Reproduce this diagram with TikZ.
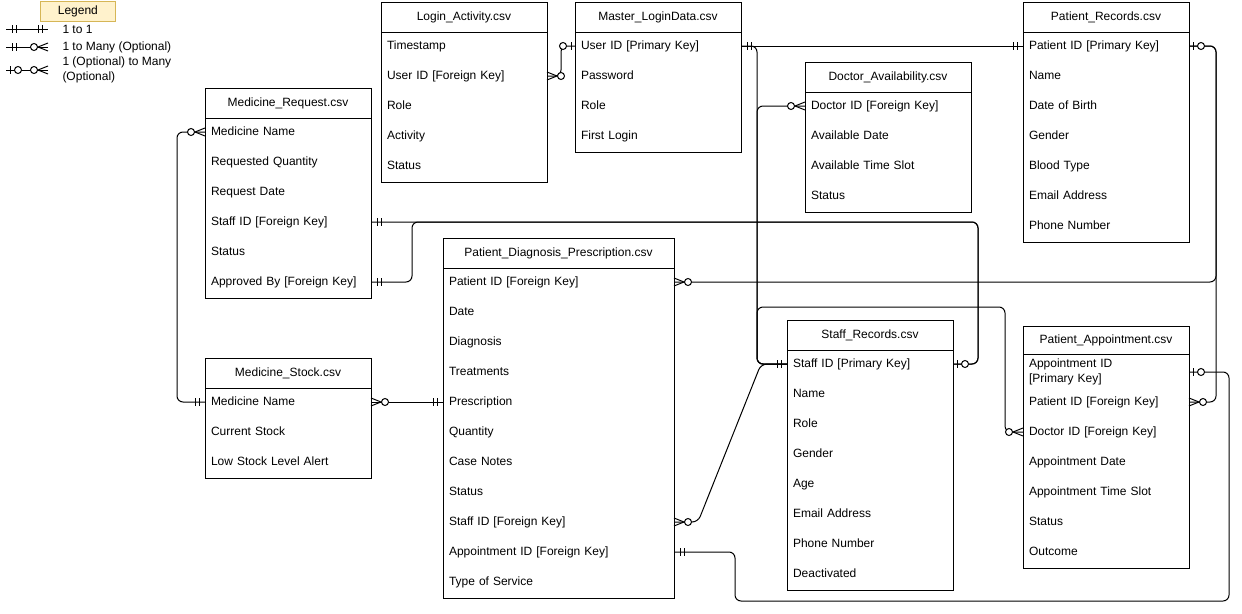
\documentclass[tikz,border=0pt]{standalone}
\usepackage{fontspec}
\setmainfont{Liberation Sans}
\usetikzlibrary{positioning,calc}

\definecolor{legendfill}{HTML}{FFF2CC}
\definecolor{legendline}{HTML}{D6B656}

\tikzset{
  head/.style={draw, minimum height=30pt, inner sep=0pt, outer sep=0pt},
  body/.style={draw, inner sep=0pt, outer sep=0pt},
  field/.style={anchor=west, align=left, inner xsep=6pt, inner ysep=0pt, outer sep=0pt, text width=#1},
  rel/.style={rounded corners=6pt},
  flip/.style={xscale=-1},
  pics/mand one/.style={code={\draw (6,-4) -- (6,4) (10,-4) -- (10,4);}},
  pics/zero one/.style={code={\draw (4,-4) -- (4,4); \draw[fill=white] (12,0) circle (3.5pt);}},
  pics/zero many/.style={code={\draw (0,-4) -- (10,0) -- (0,4); \draw[fill=white] (14,0) circle (3.5pt);}},
}

\begin{document}
\begin{tikzpicture}[x=1pt, y=-1pt, line width=1pt, node distance=0pt, font=\fontsize{12}{15}\selectfont]
  \useasboundingbox (0,0) rectangle (1242,613);

  % legend
  \node[draw=legendline, fill=legendfill, line width=0.8pt, minimum width=75pt, minimum height=20pt, inner sep=0pt, anchor=north west] (legend) at (40,1) {Legend};
  \coordinate (l1a) at (6,29);  \coordinate (l1b) at (48,29);
  \coordinate (l2a) at (6,47);  \coordinate (l2b) at (48,47);
  \coordinate (l3a) at (6,70);  \coordinate (l3b) at (48,70);
  \node[anchor=west, inner sep=0pt] (leg1) at (62,29) {1 to 1};
  \node[anchor=west, inner sep=0pt] (leg2) at (62,47) {1 to Many (Optional)};
  \node[anchor=west, inner sep=0pt, align=left] (leg3) at (62,70) {1 (Optional) to Many\\(Optional)};
  \draw (l1a) -- (l1b); \pic at (l1a) {mand one}; \pic[flip] at (l1b) {mand one};
  \draw (l2a) -- (l2b); \pic at (l2a) {mand one}; \pic[flip] at (l2b) {zero many};
  \draw (l3a) -- (l3b); \pic at (l3a) {zero one}; \pic[flip] at (l3b) {zero many};

  % Login_Activity.csv
  \node[head, minimum width=166pt, anchor=north west] (la) at (381,2) {Login\_Activity.csv};
  \node[body, minimum width=166pt, minimum height=150pt, below=of la] (la-b) {};
  \foreach \t [count=\i] in {Timestamp, User ID [Foreign Key], Role, Activity, Status}
    \node[field=154pt] (la-\i) at ($(la-b.north west)+(0,30*\i-16)$) {\strut\t\strut};

  % Master_LoginData.csv
  \node[head, minimum width=166pt, anchor=north west] (ml) at (575,2) {Master\_LoginData.csv};
  \node[body, minimum width=166pt, minimum height=120pt, below=of ml] (ml-b) {};
  \foreach \t [count=\i] in {User ID [Primary Key], Password, Role, First Login}
    \node[field=154pt] (ml-\i) at ($(ml-b.north west)+(0,30*\i-16)$) {\strut\t\strut};

  % Patient_Records.csv
  \node[head, minimum width=166pt, anchor=north west] (prr) at (1023,2) {Patient\_Records.csv};
  \node[body, minimum width=166pt, minimum height=210pt, below=of prr] (prr-b) {};
  \foreach \t [count=\i] in {Patient ID [Primary Key], Name, Date of Birth, Gender, Blood Type, Email Address, Phone Number}
    \node[field=154pt] (prr-\i) at ($(prr-b.north west)+(0,30*\i-16)$) {\strut\t\strut};

  % Doctor_Availability.csv
  \node[head, minimum width=166pt, anchor=north west] (da) at (805,62) {Doctor\_Availability.csv};
  \node[body, minimum width=166pt, minimum height=120pt, below=of da] (da-b) {};
  \foreach \t [count=\i] in {Doctor ID [Foreign Key], Available Date, Available Time Slot, Status}
    \node[field=154pt] (da-\i) at ($(da-b.north west)+(0,30*\i-16)$) {\strut\t\strut};

  % Medicine_Request.csv
  \node[head, minimum width=166pt, anchor=north west] (mr) at (205,88) {Medicine\_Request.csv};
  \node[body, minimum width=166pt, minimum height=180pt, below=of mr] (mr-b) {};
  \foreach \t [count=\i] in {Medicine Name, Requested Quantity, Request Date, Staff ID [Foreign Key], Status, Approved By [Foreign Key]}
    \node[field=154pt] (mr-\i) at ($(mr-b.north west)+(0,30*\i-16)$) {\strut\t\strut};

  % Medicine_Stock.csv
  \node[head, minimum width=166pt, anchor=north west] (ms) at (205,358) {Medicine\_Stock.csv};
  \node[body, minimum width=166pt, minimum height=90pt, below=of ms] (ms-b) {};
  \foreach \t [count=\i] in {Medicine Name, Current Stock, Low Stock Level Alert}
    \node[field=154pt] (ms-\i) at ($(ms-b.north west)+(0,30*\i-16)$) {\strut\t\strut};

  % Patient_Diagnosis_Prescription.csv
  \node[head, minimum width=231pt, anchor=north west] (pd) at (443,238) {Patient\_Diagnosis\_Prescription.csv};
  \node[body, minimum width=231pt, minimum height=330pt, below=of pd] (pd-b) {};
  \foreach \t [count=\i] in {Patient ID [Foreign Key], Date, Diagnosis, Treatments, Prescription, Quantity, Case Notes, Status, Staff ID [Foreign Key], Appointment ID [Foreign Key], Type of Service}
    \node[field=219pt] (pd-\i) at ($(pd-b.north west)+(0,30*\i-16)$) {\strut\t\strut};

  % Staff_Records.csv
  \node[head, minimum width=166pt, anchor=north west] (sr) at (787,320) {Staff\_Records.csv};
  \node[body, minimum width=166pt, minimum height=240pt, below=of sr] (sr-b) {};
  \foreach \t [count=\i] in {Staff ID [Primary Key], Name, Role, Gender, Age, Email Address, Phone Number, Deactivated}
    \node[field=154pt] (sr-\i) at ($(sr-b.north west)+(0,30*\i-16)$) {\strut\t\strut};

  % Patient_Appointment.csv
  \node[head, minimum width=166pt, minimum height=28pt, anchor=north west] (pa) at (1023,326) {Patient\_Appointment.csv};
  \node[body, minimum width=166pt, minimum height=214pt, below=of pa] (pa-b) {};
  \foreach \t [count=\i] in {Appointment ID\\{}[Primary Key], Patient ID [Foreign Key], Doctor ID [Foreign Key], Appointment Date, Appointment Time Slot, Status, Outcome}
    \node[field=154pt] (pa-\i) at ($(pa-b.north west)+(0,30*\i-12)$) {\strut\t\strut};

  % relationships
  \coordinate (stbus) at ($(sr.north west)+(-30,-13)$);
  \coordinate (apbus) at ($(pd-10.east)+(61,49)$);
  \draw[rel] (la-2.east) -- ++(14,0) |- (ml-1.west);
  \draw[rel] (ml-1.east) -- (prr-1.west);
  \draw[rel] (ml-1.east) -- ++(16,0) |- (sr-1.west);
  \draw[rel] (da-1.west) -- ++(-48,0) |- (sr-1.west);
  \draw[rel] (pa-3.west) -- ++(-18,0) |- (stbus) |- (sr-1.west);
  \draw[rel] (pd-9.east) -- ++(24,0) -- ($(sr-1.west)+(-26,0)$) -- (sr-1.west);
  \draw[rel] (sr-1.east) -- ++(25,0) |- (mr-4.east);
  \draw[rel] (sr-1.east) -- ++(25,0) |- ($(mr-4.east)+(41,0)$) |- (mr-6.east);
  \draw[rel] (prr-1.east) -- ++(27,0) |- (pd-1.east);
  \draw[rel] (prr-1.east) -- ++(27,0) |- (pa-2.east);
  \draw[rel] (pa-1.east) -- ++(40,0) |- (apbus) |- (pd-10.east);
  \draw[rel] (ms-1.west) -- ++(-28,0) |- (mr-1.west);
  \draw[rel] (ms-1.east) -- (pd-5.west);

  % end marks
  \pic at (la-2.east) {zero many};
  \pic[flip] at (ml-1.west) {zero one};
  \pic at (ml-1.east) {mand one};
  \pic[flip] at (prr-1.west) {mand one};
  \pic[flip] at (sr-1.west) {mand one};
  \pic[flip] at (da-1.west) {zero many};
  \pic[flip] at (pa-3.west) {zero many};
  \pic at (pd-9.east) {zero many};
  \pic at (sr-1.east) {zero one};
  \pic at (mr-4.east) {mand one};
  \pic at (mr-6.east) {mand one};
  \pic at (prr-1.east) {zero one};
  \pic at (pd-1.east) {zero many};
  \pic at (pa-2.east) {zero many};
  \pic at (pa-1.east) {zero one};
  \pic at (pd-10.east) {mand one};
  \pic[flip] at (ms-1.west) {mand one};
  \pic[flip] at (mr-1.west) {zero many};
  \pic at (ms-1.east) {zero many};
  \pic[flip] at (pd-5.west) {mand one};
\end{tikzpicture}
\end{document}
